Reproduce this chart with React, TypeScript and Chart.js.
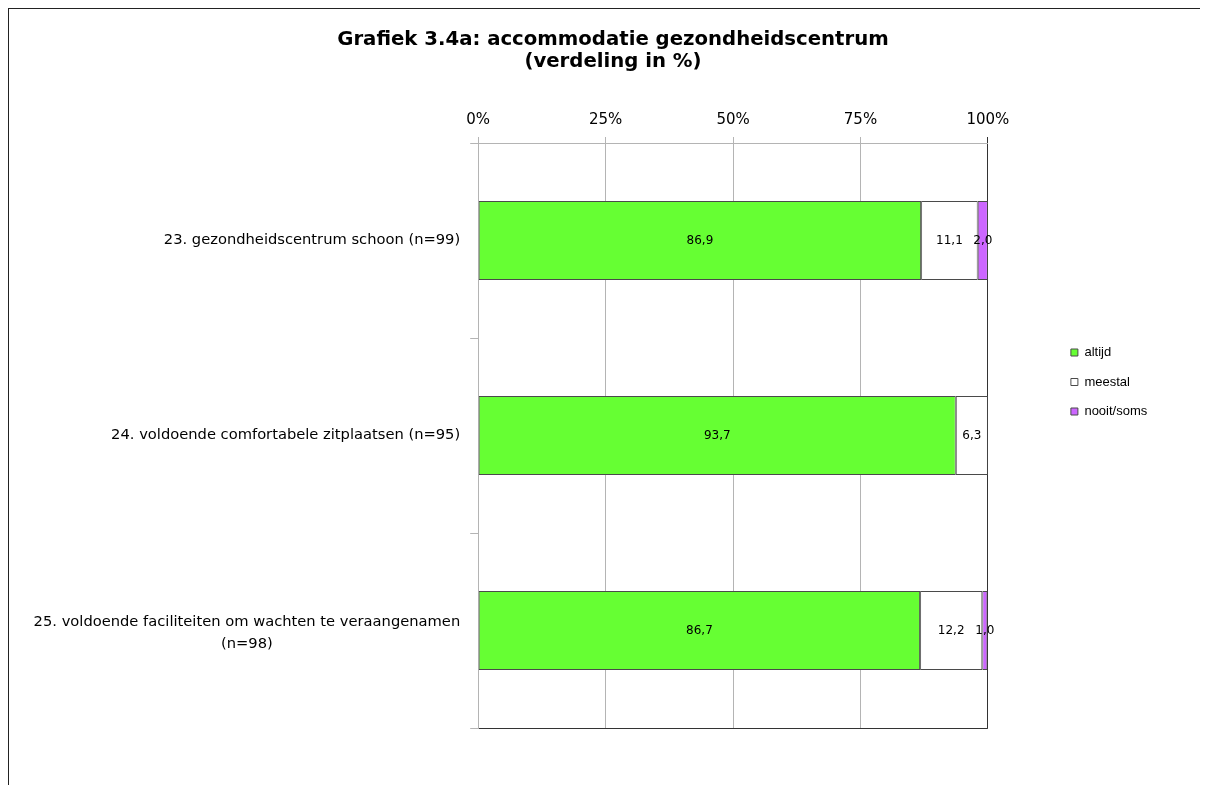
import React, { useEffect, useRef } from 'react';
import { Chart, registerables } from 'chart.js';

Chart.register(...registerables);

// ---- data ----
const categories: (string | string[])[] = [
  '23. gezondheidscentrum schoon (n=99)',
  '24. voldoende comfortabele zitplaatsen (n=95)',
  ['25. voldoende faciliteiten om wachten te veraangenamen', '(n=98)'],
];
const seriesNames = ['altijd', 'meestal', 'nooit/soms'];
const altijd = [86.9, 93.7, 86.7];
const meestal = [11.1, 6.3, 12.2];
const nooitSoms = [2.0, 0, 1.0];
const xTickValues = [0, 25, 50, 75, 100];
const titleLines = ['Grafiek 3.4a: accommodatie gezondheidscentrum', '(verdeling in %)'];

// ---- style ----
const FONT = "'DejaVu Sans', Verdana, sans-serif";
const LEGEND_FONT = "'Liberation Sans', Arial, sans-serif";
const GRID_GRAY = '#b4b4b4';
const DARK = '#333333';
const BAR_BORDER = '#4a4a4a';
const colors = ['#66ff33', '#ffffff', '#cc66ff'];

const Y_TICK_LEN = 8;
const Y_TICK_PAD = 10;
const Y_LABEL_SIZE = 14.7;
const Y_LABEL_LINE = 22;
const LEGEND_WIDTH = 138;
const GAP_WIDTH = 66.5;

const valueLabelPlugin = {
  id: 'valueLabels',
  afterDatasetsDraw(chart: any) {
    const ctx = chart.ctx;
    ctx.save();
    ctx.font = `12px ${FONT}`;
    ctx.fillStyle = '#000';
    ctx.textAlign = 'center';
    ctx.textBaseline = 'middle';
    chart.data.datasets.forEach((ds: any, di: number) => {
      const meta = chart.getDatasetMeta(di);
      meta.data.forEach((el: any, i: number) => {
        const v = ds.data[i];
        if (!v) return;
        const p = el.getCenterPoint();
        ctx.fillText(v.toFixed(1).replace('.', ','), p.x, p.y);
      });
    });
    ctx.restore();
  },
};

function labelLines(label: any): string[] {
  return Array.isArray(label) ? label : [label];
}

const yLabelPlugin = {
  id: 'yLabels',
  afterDraw(chart: any) {
    const scale = chart.scales.y;
    const ctx = chart.ctx;
    ctx.save();
    ctx.font = `${Y_LABEL_SIZE}px ${FONT}`;
    ctx.fillStyle = '#000';
    ctx.textAlign = 'center';
    ctx.textBaseline = 'middle';
    const right = scale.right - Y_TICK_LEN - Y_TICK_PAD;
    scale.ticks.forEach((_t: any, i: number) => {
      const lines = labelLines(chart.data.labels[i]);
      const w = Math.max(...lines.map((l) => ctx.measureText(l).width));
      const cx = right - w / 2;
      const cy = scale.getPixelForTick(i) + (lines.length > 1 ? 3 : 0);
      const y0 = cy - ((lines.length - 1) * Y_LABEL_LINE) / 2;
      lines.forEach((l, j) => ctx.fillText(l, cx, y0 + j * Y_LABEL_LINE));
    });
    ctx.restore();
  },
};

const legendWidthPlugin = {
  id: 'legendWidth',
  beforeLayout(chart: any) {
    const lg = chart.legend;
    if (lg && !lg.__patched) {
      const orig = lg.fit.bind(lg);
      lg.fit = function () {
        orig();
        this.width = LEGEND_WIDTH;
      };
      lg.__patched = true;
    }
  },
};

export default function App() {
  const ref = useRef<HTMLCanvasElement | null>(null);

  useEffect(() => {
    if (!ref.current) return;
    const series = [altijd, meestal, nooitSoms];
    const chart = new Chart(ref.current, {
      type: 'bar',
      data: {
        labels: categories as any,
        datasets: series.map((d, i) => ({
          label: seriesNames[i],
          data: d,
          backgroundColor: colors[i],
          borderColor: BAR_BORDER,
          borderWidth: 1,
          borderSkipped: false,
          barPercentage: 0.405,
          categoryPercentage: 1,
        })),
      },
      options: {
        indexAxis: 'y',
        responsive: false,
        animation: false,
        layout: { padding: { left: 24.6, right: 15.6, top: 27, bottom: 57 } },
        scales: {
          x: {
            type: 'linear',
            position: 'top',
            stacked: true,
            min: 0,
            max: 100,
            afterBuildTicks: (s: any) => {
              s.ticks = xTickValues.map((v) => ({ value: v }));
            },
            ticks: {
              callback: (v: any) => `${v}%`,
              font: { family: FONT, size: 15 },
              color: '#000',
              padding: 8,
            },
            grid: {
              color: (c: any) => (c.tick && c.tick.value === 100 ? DARK : GRID_GRAY),
              tickColor: (c: any) => (c.tick && c.tick.value === 100 ? DARK : GRID_GRAY),
              tickLength: 6,
            },
            border: { color: GRID_GRAY },
          },
          y: {
            type: 'category',
            axis: 'y',
            position: 'left',
            stacked: true,
            ticks: {
              font: { family: FONT, size: Y_LABEL_SIZE, lineHeight: `${Y_LABEL_LINE}px` },
              color: 'rgba(0,0,0,0)',
              padding: Y_TICK_PAD,
            },
            grid: {
              offset: true,
              color: (c: any) =>
                c.index === undefined ? DARK : c.index === 0 ? GRID_GRAY : 'rgba(0,0,0,0)',
              tickColor: GRID_GRAY,
              tickLength: Y_TICK_LEN,
            },
            border: { color: GRID_GRAY },
            afterFit: (s: any) => {
              const ctx = s.ctx;
              ctx.save();
              ctx.font = `${Y_LABEL_SIZE}px ${FONT}`;
              let widest = 0;
              (s.chart.data.labels as any[]).forEach((lab) => {
                labelLines(lab).forEach((l) => {
                  widest = Math.max(widest, ctx.measureText(l).width);
                });
              });
              ctx.restore();
              s.width = widest + Y_TICK_LEN + Y_TICK_PAD;
            },
          },
          yGap: {
            type: 'category',
            axis: 'y',
            position: 'right',
            grid: { display: false },
            border: { display: false },
            ticks: { display: false },
            afterFit: (s: any) => {
              s.width = GAP_WIDTH;
            },
          },
        } as any,
        plugins: {
          title: {
            display: true,
            text: titleLines,
            color: '#000',
            font: { family: FONT, size: 19.7, weight: 'bold', lineHeight: '22px' },
            padding: { top: -7, bottom: 30 },
          },
          legend: {
            position: 'right',
            align: 'center',
            labels: {
              font: { family: LEGEND_FONT, size: 13 },
              color: '#000',
              boxWidth: 7,
              boxHeight: 7,
              padding: 16.5,
            },
          },
          tooltip: { enabled: false },
        },
      },
      plugins: [valueLabelPlugin, yLabelPlugin, legendWidthPlugin],
    } as any);
    return () => chart.destroy();
  }, []);

  return (
    <div
      style={{
        width: 1199,
        height: 776,
        borderTop: '1px solid #222',
        borderLeft: '1px solid #222',
        background: '#fff',
      }}
    >
      <canvas ref={ref} width={1199} height={776} style={{ display: 'block' }} />
    </div>
  );
}
